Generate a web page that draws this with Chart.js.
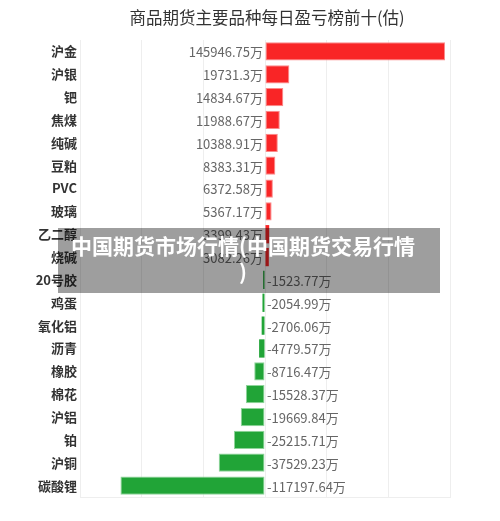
<!DOCTYPE html>
<html lang="zh">
<head>
    <meta charset="UTF-8">
    <title>商品期货主要品种每日盈亏榜前十(估)</title>
    <script src="https://cdn.jsdelivr.net/npm/chart.js"></script>
    <style>
        * { margin: 0; padding: 0; box-sizing: border-box; }
        body { background: #fff; width: 500px; height: 521px; overflow: hidden; position: relative; }
        #wrap { position: absolute; left: 0; top: 0; width: 500px; height: 521px; }
        .mark {
            position: absolute;
            left: 58px; top: 228px; width: 382px; height: 65px;
            background: rgba(0, 0, 0, 0.38);
            color: #fff;
            font-family: 'Noto Sans CJK SC', sans-serif;
            font-weight: bold;
            font-size: 21px;
            line-height: 26px;
            text-align: center;
            padding-top: 4px;
            padding-right: 12px;
            white-space: nowrap;
        }
    </style>
</head>
<body>
    <div id="wrap"><canvas id="chart" width="500" height="521"></canvas></div>
    <div class="mark">中国期货市场行情(中国期货交易行情<br>)</div>

    <script>
        // categories, top to bottom
        const categories = ['沪金', '沪银', '钯', '焦煤', '纯碱', '豆粕', 'PVC', '玻璃', '乙二醇', '烧碱',
            '20号胶', '鸡蛋', '氧化铝', '沥青', '橡胶', '棉花', '沪铝', '铂', '沪铜', '碳酸锂'];
        // daily profit / loss, unit: 万
        const values = [145946.75, 19731.3, 14834.67, 11988.67, 10388.91, 8383.31, 6372.58, 5367.17, 3399.43, 3082.26,
            -1523.77, -2054.99, -2706.06, -4779.57, -8716.47, -15528.37, -19669.84, -25215.71, -37529.23, -117197.64];
        const valueLabels = ['145946.75万', '19731.3万', '14834.67万', '11988.67万', '10388.91万', '8383.31万', '6372.58万', '5367.17万', '3399.43万', '3082.26万',
            '-1523.77万', '-2054.99万', '-2706.06万', '-4779.57万', '-8716.47万', '-15528.37万', '-19669.84万', '-25215.71万', '-37529.23万', '-117197.64万'];
        const titleText = '商品期货主要品种每日盈亏榜前十(估)';

        const fontFamily = "'Noto Sans CJK SC', 'Noto Sans', sans-serif";

        // value labels sit on the other side of zero
        const valueLabelPlugin = {
            id: 'valueLabels',
            afterDatasetsDraw(chart) {
                const ctx = chart.ctx;
                const meta = chart.getDatasetMeta(0);
                const x0 = chart.scales.x.getPixelForValue(0);
                ctx.save();
                ctx.font = '13px ' + fontFamily;
                ctx.fillStyle = '#666';
                ctx.textBaseline = 'middle';
                meta.data.forEach((bar, i) => {
                    if (values[i] >= 0) {
                        ctx.textAlign = 'right';
                        ctx.fillText(valueLabels[i], x0 - 2, bar.y + 1);
                    } else {
                        ctx.textAlign = 'left';
                        ctx.fillText(valueLabels[i], x0 + 2, bar.y + 1);
                    }
                });
                ctx.restore();
            }
        };

        const titlePlugin = {
            id: 'topTitle',
            afterDraw(chart) {
                const ctx = chart.ctx;
                const area = chart.chartArea;
                ctx.save();
                ctx.font = '16.5px ' + fontFamily;
                ctx.fillStyle = '#333';
                ctx.textAlign = 'center';
                ctx.textBaseline = 'middle';
                ctx.fillText(titleText, (area.left + area.right) / 2 + 2, 18);
                ctx.restore();
            }
        };

        new Chart(document.getElementById('chart'), {
            type: 'bar',
            data: {
                labels: categories,
                datasets: [{
                    data: values,
                    backgroundColor: values.map(v => v >= 0 ? '#f92526' : '#21a437'),
                    borderColor: values.map(v => v >= 0 ? '#fb8a8a' : '#8fd59b'),
                    // thin bars show only their fill
                    borderWidth: (c) => Math.abs(c.raw) < 5000 ? 0 : 1,
                    borderSkipped: false,
                    barPercentage: 0.8,
                    categoryPercentage: 1.0
                }]
            },
            options: {
                indexAxis: 'y',
                responsive: false,
                animation: false,
                layout: { padding: { top: 40, right: 50, bottom: 24, left: 0 } },
                plugins: {
                    legend: { display: false },
                    title: { display: false },
                    tooltip: { enabled: false }
                },
                scales: {
                    x: {
                        min: -150000,
                        max: 150000,
                        ticks: { display: false, stepSize: 50000 },
                        grid: { color: '#eeeeee', drawTicks: false },
                        border: { color: '#eeeeee' }
                    },
                    y: {
                        afterFit(scale) { scale.width = 80; },
                        ticks: {
                            color: '#333',
                            padding: 3,
                            font: { family: fontFamily, size: 13, weight: 'bold' }
                        },
                        grid: { display: false, drawTicks: false },
                        border: { color: '#eeeeee' }
                    }
                }
            },
            plugins: [valueLabelPlugin, titlePlugin]
        });
    </script>
</body>
</html>
